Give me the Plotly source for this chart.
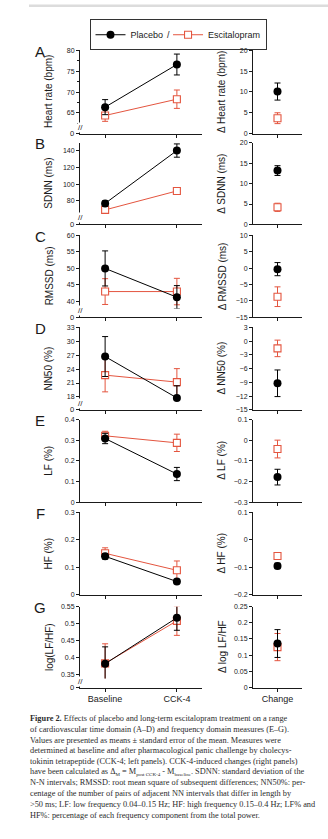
import plotly.graph_objects as go

W, H = 328, 839
RED = "#e4553f"
INK = "#1a1a1a"
SANS = "Liberation Sans, Arial, sans-serif"
SERIF = "Liberation Serif, Times New Roman, serif"

groups = ["Baseline", "CCK-4"]
change_cat = ["Change"]

hr_placebo = [66.4, 76.6]
hr_placebo_err = [1.8, 2.5]
hr_escit = [64.4, 68.3]
hr_escit_err = [1.4, 2.2]
d_hr_placebo = [10.1]
d_hr_placebo_err = [2.05]
d_hr_escit = [3.7]
d_hr_escit_err = [1.3]

sdnn_placebo = [76.8, 140.5]
sdnn_placebo_err = [3.0, 8.0]
sdnn_escit = [69.0, 91.8]
sdnn_escit_err = [3.0, 3.0]
d_sdnn_placebo = [13.2]
d_sdnn_placebo_err = [1.2]
d_sdnn_escit = [4.2]
d_sdnn_escit_err = [1.0]

rmssd_placebo = [50.0, 41.3]
rmssd_placebo_err = [5.3, 3.5]
rmssd_escit = [43.0, 43.0]
rmssd_escit_err = [3.9, 4.0]
d_rmssd_placebo = [-0.3]
d_rmssd_placebo_err = [2.0]
d_rmssd_escit = [-8.7]
d_rmssd_escit_err = [3.0]

nn50_placebo = [26.7, 17.8]
nn50_placebo_err = [4.3, 2.6]
nn50_escit = [22.7, 21.2]
nn50_escit_err = [3.6, 2.9]
d_nn50_placebo = [-9.2]
d_nn50_placebo_err = [2.9]
d_nn50_escit = [-1.6]
d_nn50_escit_err = [1.8]

lf_placebo = [0.308, 0.136]
lf_placebo_err = [0.025, 0.032]
lf_escit = [0.321, 0.287]
lf_escit_err = [0.022, 0.042]
d_lf_placebo = [-0.179]
d_lf_placebo_err = [0.038]
d_lf_escit = [-0.043]
d_lf_escit_err = [0.043]

hf_placebo = [0.140, 0.048]
hf_placebo_err = [0.010, 0.008]
hf_escit = [0.151, 0.089]
hf_escit_err = [0.020, 0.034]
d_hf_placebo = [-0.095]
d_hf_placebo_err = [0.010]
d_hf_escit = [-0.059]
d_hf_escit_err = [0.012]

lfhf_placebo = [0.381, 0.517]
lfhf_placebo_err = [0.050, 0.037]
lfhf_escit = [0.382, 0.508]
lfhf_escit_err = [0.058, 0.043]
d_lfhf_placebo = [0.136]
d_lfhf_placebo_err = [0.043]
d_lfhf_escit = [0.125]
d_lfhf_escit_err = [0.042]

SUB = '<span style="font-size:5px">'
caption_lines = [
    "<b>Figure 2.</b> Effects of placebo and long-term escitalopram treatment on a range",
    "of cardiovascular time domain (A–D) and frequency domain measures (E–G).",
    "Values are presented as means ± standard error of the mean. Measures were",
    "determined at baseline and after pharmacological panic challenge by cholecys-",
    "tokinin tetrapeptide (CCK-4; left panels). CCK-4-induced changes (right panels)",
    "have been calculated as Δ<sub>" + SUB + "M</span></sub> = M<sub>" + SUB
    + "post CCK-4</span></sub> - M<sub>" + SUB
    + "baseline</span></sub>. SDNN: standard deviation of the",
    "N-N intervals; RMSSD: root mean square of subsequent differences; NN50%: per-",
    "centage of the number of pairs of adjacent NN intervals that differ in length by",
    ">50 ms; LF: low frequency 0.04–0.15 Hz; HF: high frequency 0.15–0.4 Hz; LF% and",
    "HF%: percentage of each frequency component from the total power.",
]

panels = [
    dict(letter="A", lt="Heart rate (bpm)", rt="Δ Heart rate (bpm)",
         P=(hr_placebo, hr_placebo_err), E=(hr_escit, hr_escit_err),
         dP=(d_hr_placebo, d_hr_placebo_err), dE=(d_hr_escit, d_hr_escit_err),
         lrange=(62.2, 80), ldtick=5, brk=True, rrange=(0, 20), rdtick=5,
         top=46.7, zero=130.7, minor=True),
    dict(letter="B", lt="SDNN (ms)", rt="Δ SDNN (ms)",
         P=(sdnn_placebo, sdnn_placebo_err), E=(sdnn_escit, sdnn_escit_err),
         dP=(d_sdnn_placebo, d_sdnn_placebo_err), dE=(d_sdnn_escit, d_sdnn_escit_err),
         lrange=(62.2, 149.8), ldtick=20, brk=True, rrange=(0, 20), rdtick=5,
         top=140.0, zero=222.3, minor=False),
    dict(letter="C", lt="RMSSD (ms)", rt="Δ RMSSD (ms)",
         P=(rmssd_placebo, rmssd_placebo_err), E=(rmssd_escit, rmssd_escit_err),
         dP=(d_rmssd_placebo, d_rmssd_placebo_err), dE=(d_rmssd_escit, d_rmssd_escit_err),
         lrange=(37.9, 60), ldtick=5, brk=True, rrange=(-15, 10), rdtick=5,
         top=233.3, zero=316.0, minor=False),
    dict(letter="D", lt="NN50 (%)", rt="Δ NN50 (%)",
         P=(nn50_placebo, nn50_placebo_err), E=(nn50_escit, nn50_escit_err),
         dP=(d_nn50_placebo, d_nn50_placebo_err), dE=(d_nn50_escit, d_nn50_escit_err),
         lrange=(17.14, 33), ldtick=3, brk=True, rrange=(-15, 3), rdtick=3,
         top=326.0, zero=409.3, minor=False),
    dict(letter="E", lt="LF (%)", rt="Δ LF (%)",
         P=(lf_placebo, lf_placebo_err), E=(lf_escit, lf_escit_err),
         dP=(d_lf_placebo, d_lf_placebo_err), dE=(d_lf_escit, d_lf_escit_err),
         lrange=(0, 0.4), ldtick=0.1, brk=False, rrange=(-0.3, 0.1), rdtick=0.1,
         top=419.0, zero=502.3, minor=False),
    dict(letter="F", lt="HF (%)", rt="Δ HF (%)",
         P=(hf_placebo, hf_placebo_err), E=(hf_escit, hf_escit_err),
         dP=(d_hf_placebo, d_hf_placebo_err), dE=(d_hf_escit, d_hf_escit_err),
         lrange=(0, 0.3), ldtick=0.1, brk=False, rrange=(-0.2, 0.1), rdtick=0.1,
         top=512.7, zero=595.7, minor=False),
    dict(letter="G", lt="log(LF/HF)", rt="Δ log LF/HF",
         P=(lfhf_placebo, lfhf_placebo_err), E=(lfhf_escit, lfhf_escit_err),
         dP=(d_lfhf_placebo, d_lfhf_placebo_err), dE=(d_lfhf_escit, d_lfhf_escit_err),
         lrange=(0.337, 0.55), ldtick=0.05, brk=True, rrange=(0, 0.25), rdtick=0.05,
         top=607.7, zero=689.3, minor=False),
]

XL = (80, 202)
XR = (253, 302)


def px_x(x):
    return x / W


def px_y(y):
    return 1 - y / H


def key(kind, n):
    return f"{kind}axis" if n == 1 else f"{kind}axis{n}"


def ref(kind, n):
    return kind if n == 1 else f"{kind}{n}"


fig = go.Figure()
layout = {}
shapes = []
annotations = []

tickfont = dict(family=SANS, size=7, color=INK)
common_axis = dict(showline=True, linecolor=INK, linewidth=1, ticks="outside",
                   ticklen=3, tickwidth=1, tickcolor=INK, showgrid=False,
                   zeroline=False, tickfont=tickfont, fixedrange=True)

xn = 0
yn = 0
for i, p in enumerate(panels):
    last = (i == len(panels) - 1)
    top, zero = p["top"], p["zero"]
    xn += 1
    xl = xn
    yn += 1
    yl = yn
    if p["brk"]:
        yn += 1
        ylow = yn
        low_top = zero - 4
        main_bottom = zero - 9
    else:
        ylow = None
        main_bottom = zero
    xanchor_y = ylow if ylow else yl

    layout[key("x", xl)] = dict(
        common_axis, type="category", domain=[px_x(XL[0]), px_x(XL[1])],
        range=[-0.35, 1.35], anchor=ref("y", xanchor_y),
        categoryorder="array", categoryarray=groups,
        showticklabels=last, tickfont=dict(family=SANS, size=9, color=INK),
        ticklen=3)
    ymain = dict(common_axis, domain=[px_y(main_bottom), px_y(top)],
                 range=list(p["lrange"]), dtick=p["ldtick"], tick0=0,
                 anchor=ref("x", xl))
    if p["minor"]:
        ymain["minor"] = dict(ticks="outside", ticklen=2, tickcolor=INK,
                              dtick=p["ldtick"] / 2, showgrid=False)
    layout[key("y", yl)] = ymain
    if ylow:
        layout[key("y", ylow)] = dict(common_axis, domain=[px_y(zero), px_y(low_top)],
                                      range=[0, 1], tickmode="array", tickvals=[0],
                                      showticklabels=False,
                                      anchor=ref("x", xl))
        fig.add_trace(go.Scatter(x=[groups[0]], y=[None], mode="markers",
                                 marker=dict(opacity=0), showlegend=False,
                                 hoverinfo="skip",
                                 xaxis=ref("x", xl), yaxis=ref("y", ylow)))
        # zero label of the lower axis segment
        annotations.append(dict(text="<span>0</span>", x=px_x(XL[0] - 4.5), y=px_y(zero),
                                xref="paper", yref="paper", showarrow=False,
                                xanchor="right", yanchor="middle",
                                font=dict(family=SANS, size=7.5, color=INK)))
        # axis-break mark
        annotations.append(dict(text="//", x=px_x(XL[0] + 0.5), y=px_y(zero - 6.5),
                                xref="paper", yref="paper", showarrow=False,
                                xanchor="center", yanchor="middle", borderpad=0,
                                bgcolor="white",
                                font=dict(family=SANS, size=8, color=INK)))

    xn += 1
    xr = xn
    yn += 1
    yr = yn
    layout[key("x", xr)] = dict(
        common_axis, type="category", domain=[px_x(XR[0]), px_x(XR[1])],
        range=[-0.5, 0.5], anchor=ref("y", yr),
        showticklabels=last, tickfont=dict(family=SANS, size=9, color=INK))
    layout[key("y", yr)] = dict(common_axis, domain=[px_y(zero), px_y(top)],
                                range=list(p["rrange"]), dtick=p["rdtick"], tick0=0,
                                anchor=ref("x", xr))

    for series, color, name, rank in [("E", RED, "Escitalopram", 2), ("P", "black", "Placebo", 1)]:
        vals, errs = p[series]
        dvals, derrs = p["d" + series]
        if series == "P":
            marker = dict(symbol="circle", size=8, color="black",
                          line=dict(color="black", width=0))
        else:
            marker = dict(symbol="square", size=7, color="white",
                          line=dict(color=color, width=1.1))
        eb = dict(type="data", array=errs, color=color, thickness=1, width=3)
        fig.add_trace(go.Scatter(
            x=groups, y=vals, mode="lines+markers", name=name,
            line=dict(color=color, width=1), marker=marker, error_y=eb,
            xaxis=ref("x", xl), yaxis=ref("y", yl), cliponaxis=False,
            showlegend=(i == 0), legendrank=rank))
        fig.add_trace(go.Scatter(
            x=change_cat, y=dvals, mode="markers", name=name,
            marker=marker,
            error_y=dict(type="data", array=derrs, color=color, thickness=1, width=3),
            xaxis=ref("x", xr), yaxis=ref("y", yr), cliponaxis=False,
            showlegend=False))

    annotations.append(dict(text=p["letter"], x=px_x(40), y=px_y(top + 1),
                            xref="paper", yref="paper", showarrow=False,
                            xanchor="center", yanchor="middle",
                            font=dict(family=SANS, size=15, color=INK)))
    mid = (top + zero) / 2
    annotations.append(dict(text=p["lt"], x=px_x(49), y=px_y(mid), textangle=-90,
                            xref="paper", yref="paper", showarrow=False,
                            xanchor="center", yanchor="middle",
                            font=dict(family=SANS, size=10, color=INK)))
    annotations.append(dict(text=p["rt"], x=px_x(222), y=px_y(mid), textangle=-90,
                            xref="paper", yref="paper", showarrow=False,
                            xanchor="center", yanchor="middle",
                            font=dict(family=SANS, size=10, color=INK)))

annotations.append(dict(text="/", x=px_x(168), y=px_y(31), xref="paper", yref="paper",
                        showarrow=False, xanchor="center", yanchor="middle",
                        font=dict(family=SANS, size=9, color=INK)))

for j, line in enumerate(caption_lines):
    annotations.append(dict(text=line, x=px_x(28), y=px_y(720.7 + j * 10.8),
                            xref="paper", yref="paper", showarrow=False,
                            xanchor="left", yanchor="middle",
                            font=dict(family=SERIF, size=8.3, color="#2b2b2b")))

shapes.append(dict(type="line", xref="paper", yref="paper",
                   x0=px_x(29), x1=1, y0=px_y(1.7), y1=px_y(1.7),
                   line=dict(color="#dcdcdc", width=2.5)))

fig.update_layout(
    width=W, height=H, margin=dict(l=0, r=0, t=0, b=0),
    paper_bgcolor="white", plot_bgcolor="rgba(0,0,0,0)",
    showlegend=True,
    legend=dict(orientation="h", x=px_x(178), xanchor="center",
                y=px_y(31), yanchor="middle", bordercolor="#333", borderwidth=1,
                bgcolor="rgba(0,0,0,0)", font=dict(family=SANS, size=9, color=INK),
                itemwidth=30, tracegroupgap=0, entrywidth=0),
    shapes=shapes, annotations=annotations,
    **layout,
)

fig.write_html("out.html")
